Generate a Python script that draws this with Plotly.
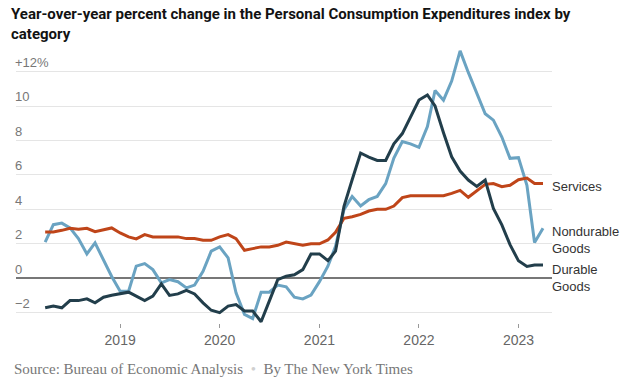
import plotly.graph_objects as go
import pandas as pd

months = pd.date_range("2018-04-01", "2023-04-01", freq="MS")

services = [2.69, 2.69, 2.78, 2.9, 2.84, 2.9, 2.7, 2.8, 2.92,
            2.63, 2.4, 2.28, 2.53, 2.4, 2.4, 2.4, 2.4, 2.3, 2.3, 2.2, 2.2,
            2.4, 2.53, 2.3, 1.62, 1.72, 1.82, 1.82, 1.91, 2.1, 2.0, 1.91, 2.0,
            2.0, 2.22, 2.67, 3.48, 3.57, 3.71, 3.9, 4.0, 4.0, 4.19, 4.68, 4.79,
            4.79, 4.79, 4.79, 4.79, 4.93, 5.1, 4.7, 5.1, 5.45, 5.5, 5.31, 5.4,
            5.72, 5.82, 5.5, 5.5]

nondurable = [2.1, 3.11, 3.2, 2.92, 2.3, 1.41, 2.05, 1.08, 0.1,
              -0.75, -0.75, 0.7, 0.85, 0.5, -0.27, -0.08, -0.2, -0.56, -0.4, 0.4, 1.57,
              1.82, 1.18, -0.85, -2.1, -2.34, -0.81, -0.81, -0.4, -0.5, -1.1, -1.2, -0.98,
              -0.2, 0.7, 1.85, 3.98, 4.75, 4.2, 4.56, 4.75, 5.49, 6.98, 7.94, 7.8,
              7.6, 8.8, 10.9, 10.34, 11.45, 13.2, 11.95, 10.7, 9.55, 9.18, 8.2, 6.96,
              7.0, 5.4, 2.07, 2.9]

durable = [-1.72, -1.62, -1.72, -1.3, -1.3, -1.2, -1.43, -1.1, -0.99,
           -0.91, -0.81, -1.04, -1.3, -1.04, -0.33, -1.0, -0.91, -0.7, -0.91, -1.43, -1.86,
           -2.0, -1.62, -1.53, -1.9, -1.9, -2.53, -1.33, -0.08, 0.12, 0.2, 0.5, 1.41,
           1.41, 1.02, 1.57, 4.17, 5.72, 7.27, 7.03, 6.84, 6.84, 7.8, 8.4, 9.4,
           10.35, 10.64, 10.0, 8.45, 7.05, 6.22, 5.7, 5.33, 5.7, 4.05, 3.1, 1.95,
           1.01, 0.68, 0.77, 0.77]

y_ticks = [-2, 0, 2, 4, 6, 8, 10, 12]
y_ticktext = ["\u22122", "0", "2", "4", "6", "8", "10", "+12%"]
x_ticks = ["2019-01-01", "2020-01-01", "2021-01-01", "2022-01-01", "2023-01-01"]
x_ticktext = ["2019", "2020", "2021", "2022", "2023"]

series_names = ["Services", "Nondurable<br>Goods", "Durable<br>Goods"]
label_y = [5.33, 2.24, 0.04]

title_text = ("Year-over-year percent change in the Personal Consumption Expenditures index by"
              "<br>category")
source_text = ("Source: Bureau of Economic Analysis&nbsp;&nbsp;<span style='color:#d0d0d0'>\u2022</span>"
               "&nbsp;&nbsp;By The New York Times")

C_SERV = "#bf4519"
C_NOND = "#6aa3c2"
C_DUR = "#223e4b"

fig = go.Figure()
fig.add_trace(go.Scatter(x=months, y=nondurable, mode="lines",
                         line=dict(color=C_NOND, width=3), name="Nondurable Goods"))
fig.add_trace(go.Scatter(x=months, y=services, mode="lines",
                         line=dict(color=C_SERV, width=3), name="Services"))
fig.add_trace(go.Scatter(x=months, y=durable, mode="lines",
                         line=dict(color=C_DUR, width=3), name="Durable Goods"))

for name, yv in zip(series_names, label_y):
    fig.add_annotation(x=1, xref="paper", xanchor="left", xshift=-2,
                       y=yv, yref="y", yanchor="middle", text=name,
                       showarrow=False, align="left",
                       font=dict(family="Liberation Sans, Arial", size=13, color="#333333"))

fig.add_annotation(x=0, xref="paper", xanchor="left", xshift=-7,
                   y=1.0733, yref="paper", yanchor="middle", text=title_text, showarrow=False,
                   align="left",
                   font=dict(family="Roboto, Liberation Sans, Arial", size=15,
                             color="#121212", weight="bold"))

fig.add_annotation(x=0, xref="paper", xanchor="left", xshift=-4,
                   y=-0.1664, yref="paper", yanchor="middle", showarrow=False,
                   text=source_text,
                   font=dict(family="Liberation Serif, Georgia, serif", size=15, color="#777777"))

fig.update_layout(
    width=640, height=392,
    margin=dict(l=16, r=88, t=44, b=68.5),
    paper_bgcolor="white", plot_bgcolor="white",
    showlegend=False, hovermode=False,
    xaxis=dict(range=["2017-12-15", "2023-05-04"], tickmode="array", tickvals=x_ticks, ticktext=x_ticktext,
               showgrid=False, zeroline=False, showline=False, ticks="outside", ticklen=4, tickwidth=1,
               tickcolor="#999999",
               tickfont=dict(family="Liberation Sans, Arial", size=14, color="#666666")),
    yaxis=dict(range=[-2.6, 13.6], tickmode="array", tickvals=y_ticks, ticktext=y_ticktext,
               showgrid=True, gridcolor="#e5e5e5", gridwidth=1,
               zeroline=True, zerolinecolor="#777777", zerolinewidth=1.5,
               showline=False, ticks="", ticklabelposition="inside top", ticklabelstandoff=-4,
               tickfont=dict(family="Liberation Sans, Arial", size=13, color="#777777")),
)

fig.write_html("out.html", config={"displayModeBar": False},
               post_script="document.body.style.margin='0';")
